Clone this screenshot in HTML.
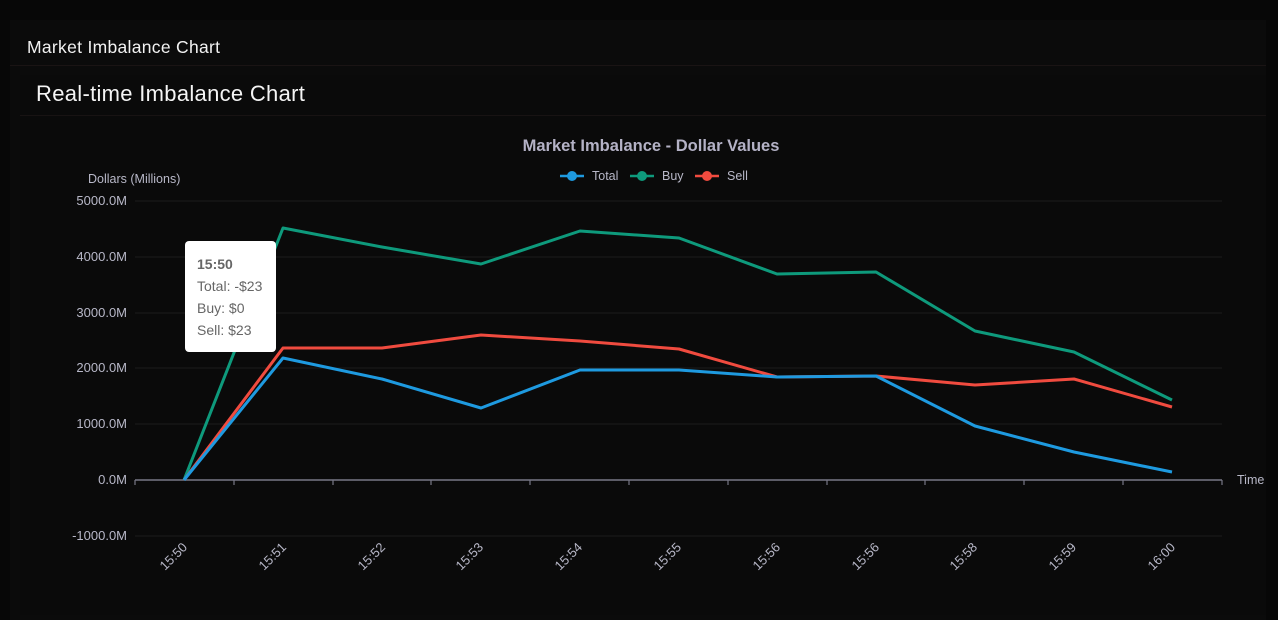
<!DOCTYPE html>
<html><head><style>
html,body{margin:0;padding:0;background:#070707;width:1278px;height:615px;overflow:hidden;font-family:"Liberation Sans",sans-serif;}
.c1{position:absolute;left:10px;top:20px;width:1256px;height:600px;background:#0b0b0b;}
.h1{position:absolute;left:27px;top:37px;color:#f2f2f2;font-size:17.5px;letter-spacing:0.3px;}
.l1{position:absolute;left:10px;top:65px;width:1256px;height:1px;background:#1a1414;}
.c2{position:absolute;left:20px;top:75px;width:1246px;height:540px;background:#0a0a0a;}
.h2{position:absolute;left:36px;top:81px;color:#f5f5f5;font-size:22px;letter-spacing:0.3px;}
.l2{position:absolute;left:20px;top:115px;width:1246px;height:1px;background:#181313;}
svg{position:absolute;left:0;top:0;}
</style></head><body>
<div class="c1"></div><div class="h1">Market Imbalance Chart</div><div class="l1"></div>
<div class="c2"></div><div class="h2">Real-time Imbalance Chart</div><div class="l2"></div>
<svg width="1278" height="615" font-family="Liberation Sans, sans-serif">
<text x="651" y="151" fill="#b4b2c6" font-size="16.5" font-weight="bold" text-anchor="middle">Market Imbalance - Dollar Values</text>
<g font-size="12.5" fill="#b8b8c8">
<line x1="560" y1="176" x2="584" y2="176" stroke="#1e9ae0" stroke-width="2.5"/><circle cx="572" cy="176" r="5" fill="#1e9ae0"/><text x="592" y="180">Total</text>
<line x1="630" y1="176" x2="654" y2="176" stroke="#0e9a7c" stroke-width="2.5"/><circle cx="642" cy="176" r="5" fill="#0e9a7c"/><text x="662" y="180">Buy</text>
<line x1="695" y1="176" x2="719" y2="176" stroke="#f04b3f" stroke-width="2.5"/><circle cx="707" cy="176" r="5" fill="#f04b3f"/><text x="727" y="180">Sell</text>
<text x="88" y="183">Dollars (Millions)</text>
<text x="1237" y="484">Time</text>
</g>
<g stroke="#1c1c1c" stroke-width="1">
<line x1="135" y1="201" x2="1222" y2="201"/><line x1="135" y1="257" x2="1222" y2="257"/><line x1="135" y1="313" x2="1222" y2="313"/><line x1="135" y1="368" x2="1222" y2="368"/><line x1="135" y1="424" x2="1222" y2="424"/><line x1="135" y1="536" x2="1222" y2="536"/>
</g>
<g font-size="13" fill="#b8b8c8" text-anchor="end">
<text x="127" y="205">5000.0M</text><text x="127" y="261">4000.0M</text><text x="127" y="317">3000.0M</text><text x="127" y="372">2000.0M</text><text x="127" y="428">1000.0M</text><text x="127" y="484">0.0M</text><text x="127" y="540">-1000.0M</text>
</g>
<line x1="135" y1="480" x2="1222" y2="480" stroke="#777786" stroke-width="1.5"/>
<g stroke="#777786" stroke-width="1.2">
<line x1="135" y1="480" x2="135" y2="485"/><line x1="234" y1="480" x2="234" y2="485"/><line x1="333" y1="480" x2="333" y2="485"/><line x1="431" y1="480" x2="431" y2="485"/><line x1="530" y1="480" x2="530" y2="485"/><line x1="629" y1="480" x2="629" y2="485"/><line x1="728" y1="480" x2="728" y2="485"/><line x1="827" y1="480" x2="827" y2="485"/><line x1="925" y1="480" x2="925" y2="485"/><line x1="1024" y1="480" x2="1024" y2="485"/><line x1="1123" y1="480" x2="1123" y2="485"/><line x1="1222" y1="480" x2="1222" y2="485"/>
</g>
<g font-size="13" fill="#b8b8c8" text-anchor="end">
<text transform="translate(188,548) rotate(-45)">15:50</text>
<text transform="translate(287,548) rotate(-45)">15:51</text>
<text transform="translate(386,548) rotate(-45)">15:52</text>
<text transform="translate(484,548) rotate(-45)">15:53</text>
<text transform="translate(583,548) rotate(-45)">15:54</text>
<text transform="translate(682,548) rotate(-45)">15:55</text>
<text transform="translate(781,548) rotate(-45)">15:56</text>
<text transform="translate(880,548) rotate(-45)">15:56</text>
<text transform="translate(978,548) rotate(-45)">15:58</text>
<text transform="translate(1077,548) rotate(-45)">15:59</text>
<text transform="translate(1176,548) rotate(-45)">16:00</text>
</g>
<g fill="none" stroke-width="3" stroke-linejoin="round">
<polyline stroke="#0e9a7c" points="184,480 283,228 382,247 481,264 580,231 679,238 777,274 876,272 975,331 1074,352 1172,400"/>
<polyline stroke="#f04b3f" points="184,480 283,348 382,348 481,335 580,341 679,349 777,377 876,376 975,385 1074,379 1172,407"/>
<polyline stroke="#1e9ae0" points="184,480 283,358 382,379 481,408 580,370 679,370 777,377 876,376 975,426 1074,452 1172,472"/>
</g>
<rect x="185" y="241" width="91" height="111" rx="4" fill="#fff"/>
<g font-size="14" fill="#666">
<text x="197" y="269" font-weight="bold">15:50</text>
<text x="197" y="291">Total: -$23</text>
<text x="197" y="313">Buy: $0</text>
<text x="197" y="335">Sell: $23</text>
</g>
</svg>
</body></html>
